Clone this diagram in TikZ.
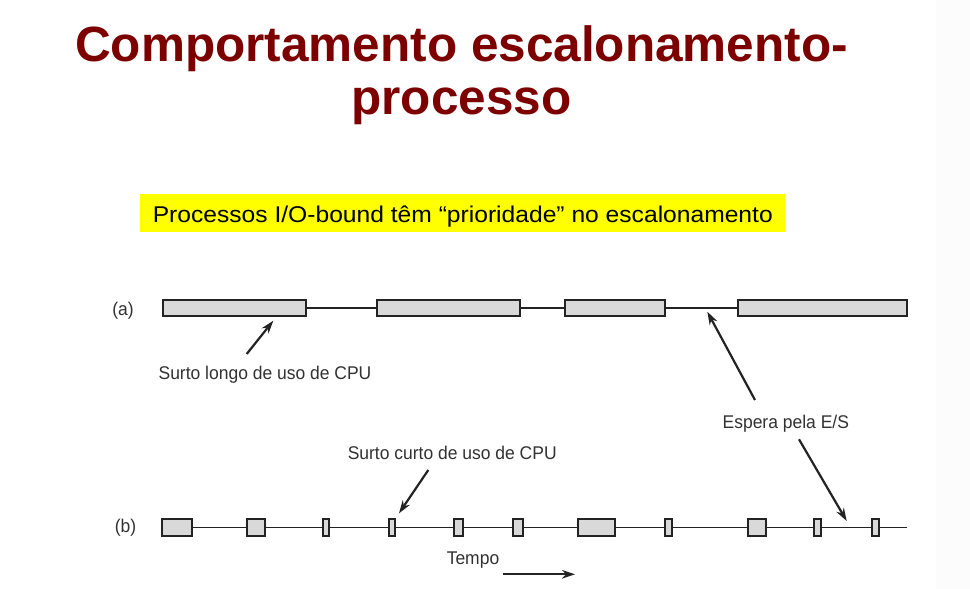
\documentclass[tikz,border=0pt]{standalone}
\usepackage{fontspec}
\setmainfont{Liberation Sans}
\newfontfamily\titlefont{Liberation Sans}[FakeStretch=1.0]
\newfontfamily\hlfont{Liberation Sans}[FakeStretch=1.08]
\newfontfamily\figfont{Liberation Sans}[FakeStretch=0.95]
\usetikzlibrary{arrows.meta}
\definecolor{titlered}{RGB}{125,0,0}
\definecolor{hlyellow}{RGB}{255,255,0}
\definecolor{ink}{RGB}{35,35,35}
\definecolor{figtext}{RGB}{50,50,50}
\definecolor{burst}{RGB}{217,217,217}
\tikzset{
  titletext/.style={inner sep=0pt, anchor=base, text=titlered, font=\titlefont\bfseries\fontsize{49.5}{54}\selectfont},
  figlabel/.style={inner sep=0pt, text=figtext, font=\figfont\fontsize{18.4}{20}\selectfont},
  abox/.style={draw=ink, line width=2.2pt, fill=burst, inner sep=0pt, minimum height=16.3pt},
  bbox/.style={draw=ink, line width=2pt, fill=burst, inner sep=0pt, minimum height=16.5pt},
  timeline/.style={draw=ink, line width=1.9pt},
  pointer/.style={draw=ink, line width=2.2pt, -{Stealth[length=13pt,width=8.5pt]}},
}
\begin{document}
\begin{tikzpicture}[x=1pt,y=-1pt]
\useasboundingbox (0,0) rectangle (970,589);
\fill[white] (0,0) rectangle (970,589);
\fill[gray!2.5] (936,0) rectangle (970,589);

% Title
\node[titletext] (t1) at (461.5,61) {Comportamento escalonamento-};
\node[titletext] (t2) at (461.5,114) {processo};

% Highlighted sentence
\node[fill=hlyellow, minimum width=645pt, minimum height=38.5pt, inner sep=0pt] (hlbox) at (462.5,213.2) {};
\node[inner sep=0pt, anchor=base, font=\hlfont\fontsize{22.8}{24}\selectfont] (hl) at (462.8,222.7) {Processos I/O-bound têm “prioridade” no escalonamento};

% (a) timeline
\node[figlabel] (la) at (123,311) {(a)};
\node[abox, minimum width=143pt] (a1) at (234.5,308) {};
\node[abox, minimum width=142.7pt] (a2) at (448.35,308) {};
\node[abox, minimum width=100pt] (a3) at (615,308) {};
\node[abox, minimum width=169pt] (a4) at (822.8,308) {};
\draw[timeline] (a1.east) -- (a2.west);
\draw[timeline] (a2.east) -- (a3.west);
\draw[timeline] (a3.east) -- (a4.west);

% (b) timeline
\node[figlabel] (lb) at (125.5,528) {(b)};
\coordinate (bend) at (906.7,527.5);
\node[bbox, minimum width=29.7pt] (b1) at (176.85,527.5) {};
\node[bbox, minimum width=18pt] (b2) at (255.7,527.5) {};
\node[bbox, minimum width=5.9pt] (b3) at (326.15,527.5) {};
\node[bbox, minimum width=5.6pt] (b4) at (392,527.5) {};
\node[bbox, minimum width=9.8pt] (b5) at (458.5,527.5) {};
\node[bbox, minimum width=10.2pt] (b6) at (517.7,527.5) {};
\node[bbox, minimum width=36.6pt] (b7) at (596.5,527.5) {};
\node[bbox, minimum width=7.2pt] (b8) at (668.8,527.5) {};
\node[bbox, minimum width=18.8pt] (b9) at (757,527.5) {};
\node[bbox, minimum width=7.2pt] (b10) at (817.2,527.5) {};
\node[bbox, minimum width=7.5pt] (b11) at (875.35,527.5) {};
\draw[timeline] (b1.east) -- (b2.west);
\draw[timeline] (b2.east) -- (b3.west);
\draw[timeline] (b3.east) -- (b4.west);
\draw[timeline] (b4.east) -- (b5.west);
\draw[timeline] (b5.east) -- (b6.west);
\draw[timeline] (b6.east) -- (b7.west);
\draw[timeline] (b7.east) -- (b8.west);
\draw[timeline] (b8.east) -- (b9.west);
\draw[timeline] (b9.east) -- (b10.west);
\draw[timeline] (b10.east) -- (b11.west);
\draw[timeline] (b11.east) -- (bend);

% Labels and pointers
\node[figlabel] (longo) at (265,374.3) {Surto longo de uso de CPU};
\coordinate (longoTail) at (246.7,354);
\coordinate (longoTip) at (273.3,320.7);
\draw[pointer] (longoTail) -- (longoTip);

\node[figlabel] (espera) at (785.8,424) {Espera pela E/S};
\coordinate (esperaUpTail) at (755,400);
\coordinate (esperaUpTip) at (707.3,311.7);
\coordinate (esperaDownTail) at (799,439.3);
\coordinate (esperaDownTip) at (846.7,521);
\draw[pointer] (esperaUpTail) -- (esperaUpTip);
\draw[pointer] (esperaDownTail) -- (esperaDownTip);

\node[figlabel] (curto) at (452.2,453.3) {Surto curto de uso de CPU};
\coordinate (curtoTail) at (428.3,470);
\coordinate (curtoTip) at (399,513.3);
\draw[pointer] (curtoTail) -- (curtoTip);

\node[figlabel] (tempo) at (473,560) {Tempo};
\coordinate (tempoTail) at (502.7,574.3);
\coordinate (tempoTip) at (575,574.3);
\draw[pointer] (tempoTail) -- (tempoTip);
\end{tikzpicture}
\end{document}
